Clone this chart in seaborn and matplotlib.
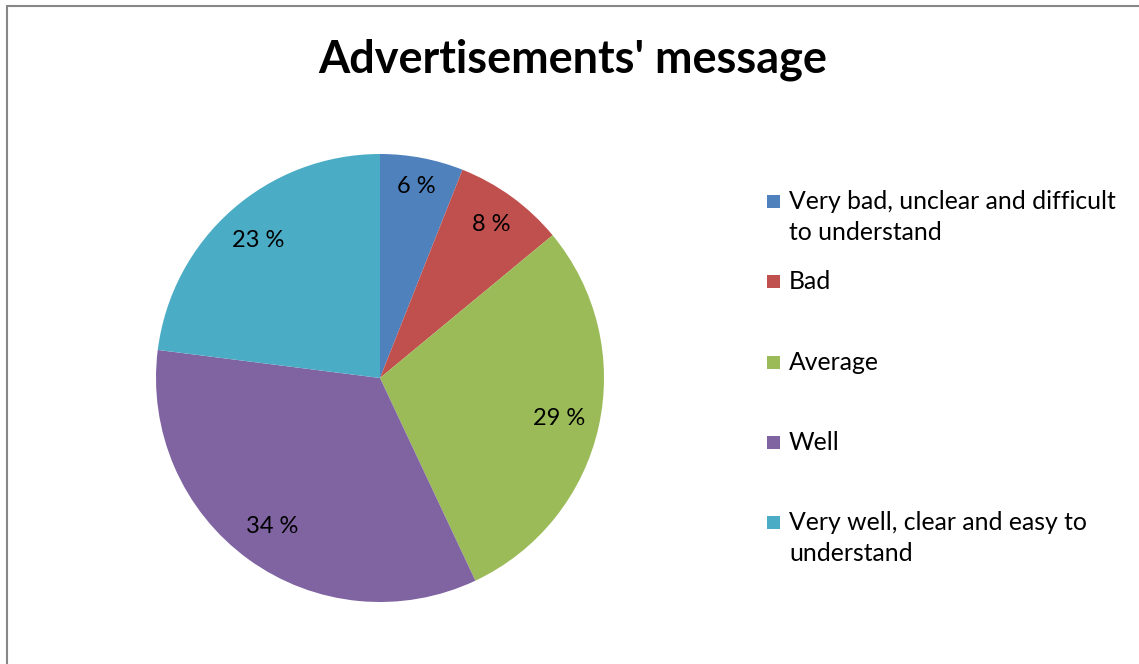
import matplotlib
matplotlib.use("Agg")
import numpy as np
import matplotlib.pyplot as plt
from matplotlib.patches import Rectangle
import seaborn as sns

categories = [
    "Very bad, unclear and difficult\nto understand",
    "Bad",
    "Average",
    "Well",
    "Very well, clear and easy to\nunderstand",
]
shares = [6, 8, 29, 34, 23]
colors = ["#4F81BD", "#C0504D", "#9BBB59", "#8064A2", "#4BACC6"]
label_dist = [0.87, 0.845, 0.82, 0.82, 0.82]
title = "Advertisements' message"

sns.set_theme(style="white")
plt.rcParams["font.family"] = ["Lato", "DejaVu Sans"]
plt.rcParams["text.color"] = "black"

W, H = 1139, 664
fig = plt.figure(figsize=(W / 100, H / 100), dpi=100)
fig.patch.set_facecolor("white")

# pie axes: centre (380, 378) px, radius 224 px
cx, cy, r = 380, 378, 224
ax = fig.add_axes([(cx - r) / W, (H - cy - r) / H, 2 * r / W, 2 * r / H])
wedges, texts, autotexts = ax.pie(
    shares,
    colors=colors,
    startangle=90,
    counterclock=False,
    radius=1.0,
    autopct=lambda p: f"{p:.0f} %",
    pctdistance=0.83,
    textprops=dict(fontsize=17, color="black"),
    wedgeprops=dict(linewidth=0),
)
# place each percentage label along its wedge's bisector
for w, t, d in zip(wedges, autotexts, label_dist):
    mid = np.deg2rad((w.theta1 + w.theta2) / 2)
    t.set_position((d * np.cos(mid), d * np.sin(mid)))

ax.set_xlim(-1, 1)
ax.set_ylim(-1, 1)
ax.set_aspect("equal")
ax.axis("off")

fig.text(573 / W, 1 - 60 / H, title, ha="center", va="center",
         fontsize=32.4, fontweight="bold", color="black")

# legend entries, first lines evenly spaced
for i, (lab, col) in enumerate(zip(categories, colors)):
    yc = 201 + 80.3 * i
    fig.add_artist(Rectangle(((767) / W, 1 - (yc + 7) / H), 13 / W, 13 / H,
                             transform=fig.transFigure, facecolor=col,
                             edgecolor="none"))
    fig.text(789 / W, 1 - (yc - 11) / H, lab, ha="left", va="top",
             fontsize=17.8, linespacing=1.43, color="black")

# chart area frame
fig.add_artist(Rectangle((6.5 / W, -0.1), 2.0, (H - 6.5) / H + 0.1,
                         transform=fig.transFigure, fill=False,
                         edgecolor="#878787", linewidth=1.5))

fig.savefig("out.png", dpi=100)
